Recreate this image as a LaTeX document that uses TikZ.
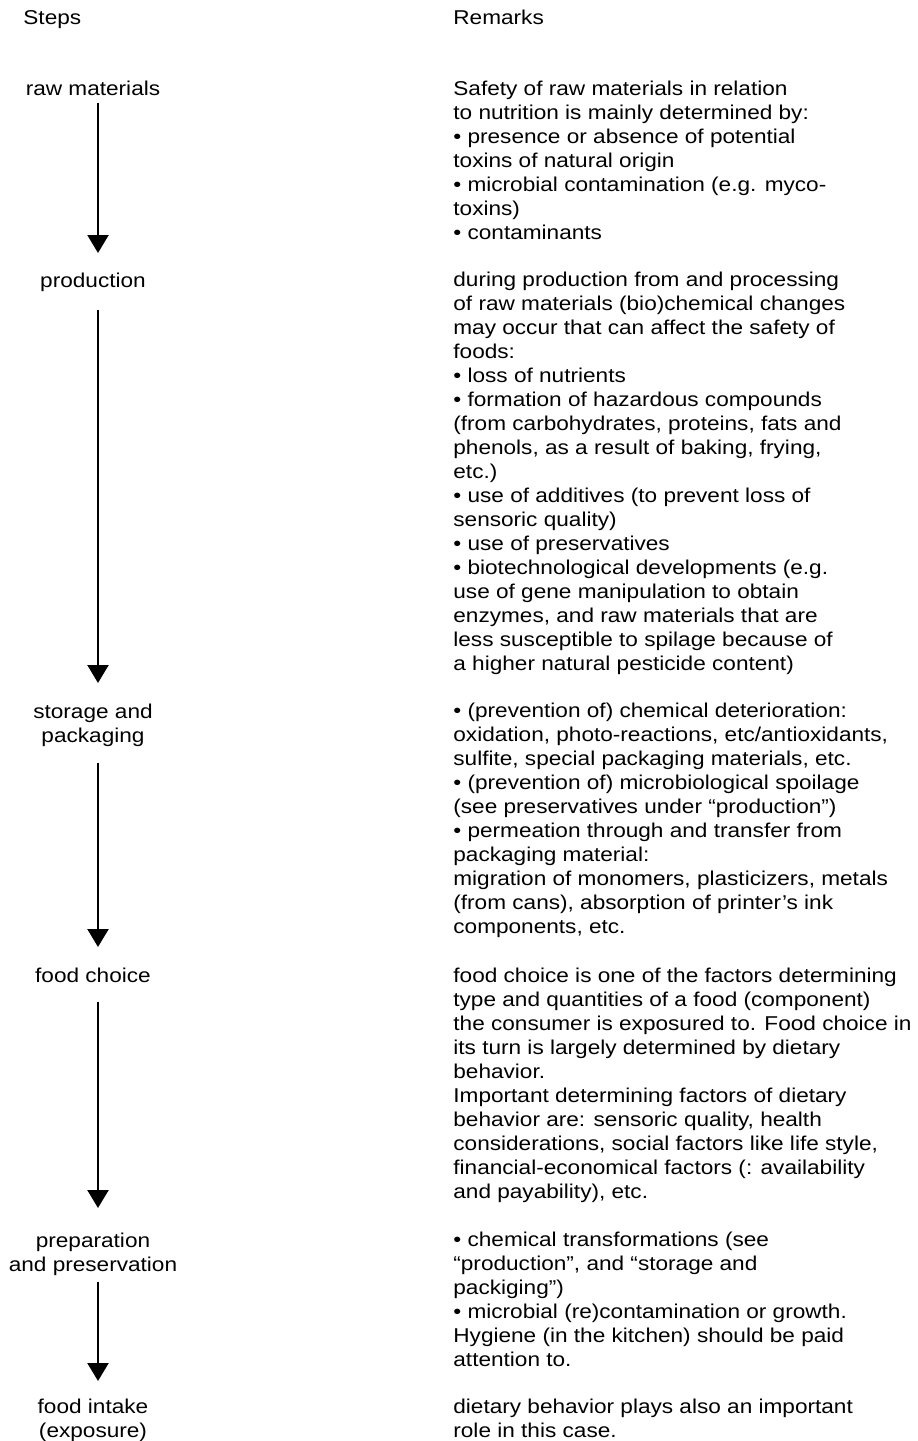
\documentclass[tikz,border=0pt]{standalone}
\usepackage{fontspec}
\setmainfont[FakeStretch=1.13]{Liberation Sans}
\usetikzlibrary{arrows.meta}

\begin{document}
\begin{tikzpicture}[x=0.5pt, y=-0.5pt,
  every node/.style={inner sep=0pt, font=\fontsize{10}{12}\selectfont},
  stepnode/.style={align=center, anchor=base},
  remark/.style={align=left, anchor=base west},
  flow/.style={line width=1.15pt, -{Triangle[width=10.5pt, length=9pt]}}]
  \useasboundingbox (0,0) rectangle (917,1441);

  % Titles
  \node[anchor=base west] (steps) at (23,24) {Steps};
  \node[anchor=base west] (remarks) at (453,24) {Remarks};

  % Steps (placed at the baseline of their last line)
  \node[stepnode] (0) at (93,95) {raw materials};
  \node[stepnode] (1) at (93,287) {production};
  \node[stepnode] (2) at (93,742) {storage and\\packaging};
  \node[stepnode] (3) at (93,982) {food choice};
  \node[stepnode] (4) at (93,1271) {preparation\\and preservation};
  \node[stepnode] (5) at (93,1437) {food intake\\(exposure)};

  % Remarks
  \node[remark] (r0) at (453,239) {Safety of raw materials in relation\\to nutrition is mainly determined by:\\• presence or absence of potential\\toxins of natural origin\\• microbial contamination (e.g. myco-\\toxins)\\• contaminants};
  \node[remark] (r1) at (453,670) {during production from and processing\\of raw materials (bio)chemical changes\\may occur that can affect the safety of\\foods:\\• loss of nutrients\\• formation of hazardous compounds\\(from carbohydrates, proteins, fats and\\phenols, as a result of baking, frying,\\etc.)\\• use of additives (to prevent loss of\\sensoric quality)\\• use of preservatives\\• biotechnological developments (e.g.\\use of gene manipulation to obtain\\enzymes, and raw materials that are\\less susceptible to spilage because of\\a higher natural pesticide content)};
  \node[remark] (r2) at (453,933) {• (prevention of) chemical deterioration:\\oxidation, photo-reactions, etc/antioxidants,\\sulfite, special packaging materials, etc.\\• (prevention of) microbiological spoilage\\(see preservatives under “production”)\\• permeation through and transfer from\\packaging material:\\migration of monomers, plasticizers, metals\\(from cans), absorption of printer’s ink\\components, etc.};
  \node[remark] (r3) at (453,1198) {food choice is one of the factors determining\\type and quantities of a food (component)\\the consumer is exposured to. Food choice in\\its turn is largely determined by dietary\\behavior.\\Important determining factors of dietary\\behavior are: sensoric quality, health\\considerations, social factors like life style,\\financial-economical factors (: availability\\and payability), etc.};
  \node[remark] (r4) at (453,1366) {• chemical transformations (see\\“production”, and “storage and\\packiging”)\\• microbial (re)contamination or growth.\\Hygiene (in the kitchen) should be paid\\attention to.};
  \node[remark] (r5) at (453,1437) {dietary behavior plays also an important\\role in this case.};

  % Arrows
  \draw[flow] ([xshift=2.5pt, yshift=-4pt]0.base) -- ([xshift=2.5pt, yshift=17pt]1.base);
  \draw[flow] ([xshift=2.5pt, yshift=-11.5pt]1.base) -- ([xshift=2.5pt, yshift=29.5pt]2.base);
  \draw[flow] ([xshift=2.5pt, yshift=-10.5pt]2.base) -- ([xshift=2.5pt, yshift=17.5pt]3.base);
  \draw[flow] ([xshift=2.5pt, yshift=-10pt]3.base) -- ([xshift=2.5pt, yshift=31.5pt]4.base);
  \draw[flow] ([xshift=2.5pt, yshift=-5.5pt]4.base) -- ([xshift=2.5pt, yshift=28pt]5.base);
\end{tikzpicture}
\end{document}
